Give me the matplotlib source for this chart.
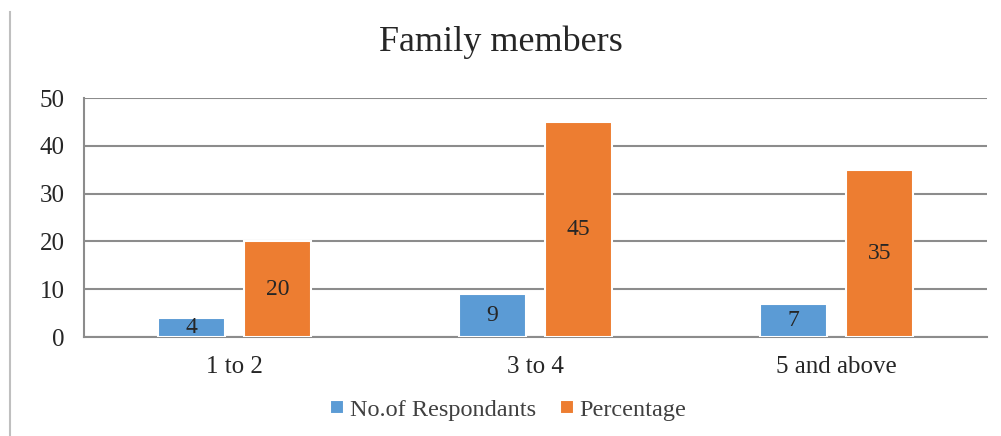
import matplotlib
matplotlib.use("Agg")
import matplotlib.pyplot as plt
import numpy as np

categories = ["1 to 2", "3 to 4", "5 and above"]
respondents = [4, 9, 7]
percentage = [20, 45, 35]
series_names = ["No.of Respondants", "Percentage"]
yticks = [0, 10, 20, 30, 40, 50]

plt.rcParams['font.family'] = ['Liberation Serif', 'DejaVu Serif']

fig = plt.figure(figsize=(10.01, 4.36), dpi=100)
ax = fig.add_axes([84/1001, 1-337/436, (987-84)/1001, (337-98)/436])

x = np.arange(len(categories))
w = 0.225
off = 0.143
b1 = ax.bar(x - off, respondents, w, color="#5B9BD5", edgecolor="white", linewidth=1.5, zorder=3, label=series_names[0])
b2 = ax.bar(x + off, percentage, w, color="#ED7D31", edgecolor="white", linewidth=1.5, zorder=3, label=series_names[1])

for bars, vals in ((b1, respondents), (b2, percentage)):
    for r, v in zip(bars, vals):
        ax.text(r.get_x() + r.get_width()/2, v/2, str(v), ha="center", va="center",
                fontsize=17, color="#262626", zorder=4)

ax.set_xlim(-0.5, 2.5)
ax.set_ylim(0, 50)
ax.set_yticks(yticks)
ax.yaxis.grid(True, color="#8c8c8c", linewidth=1.5, zorder=0)
ax.set_axisbelow(True)
for s in ["top", "right"]:
    ax.spines[s].set_visible(False)
ax.spines["left"].set_color("#8c8c8c")
ax.spines["bottom"].set_color("#8c8c8c")
ax.spines["left"].set_linewidth(1.5)
ax.spines["bottom"].set_linewidth(1.5)
ax.set_xticks(x)
ax.set_xticklabels(categories)
ax.tick_params(axis="both", length=0, labelsize=18, colors="#262626")
ax.tick_params(axis="y", pad=14)
ax.tick_params(axis="x", pad=14)

fig.text(0.5, 1-42/436, "Family members", ha="center", va="center", fontsize=26, color="#262626")

leg = fig.legend(handles=[b1, b2], labels=series_names, loc="center", bbox_to_anchor=(0.508, 1-410/436),
                 ncol=2, frameon=False, fontsize=17.5, handlelength=0.55, handleheight=0.55,
                 handletextpad=0.25, columnspacing=1.0, labelcolor="#404040")

fig.add_artist(plt.Line2D([10/1001, 10/1001], [0, 1-12/436], color="#bfbfbf", linewidth=1.5))

fig.savefig("out.png", dpi=100, facecolor="white")
